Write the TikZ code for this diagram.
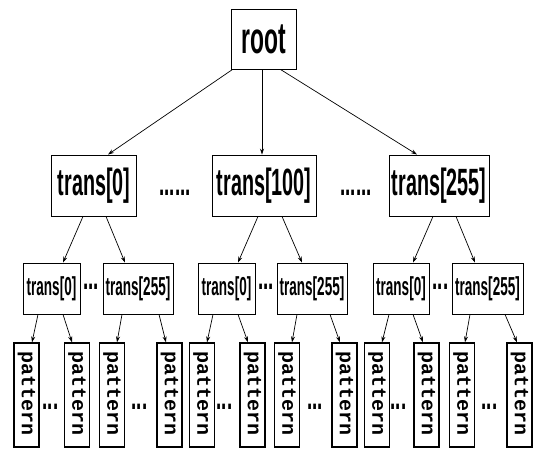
\documentclass[tikz,border=0pt]{standalone}
\usepackage{fontspec}
\usetikzlibrary{arrows.meta}
\newfontfamily\condfont{Liberation Sans}[UprightFont={* Bold},FakeStretch=0.52]
\newfontfamily\patfont{Liberation Mono}[UprightFont={* Bold}]
\begin{document}
\begin{tikzpicture}[x=1pt,y=-1pt,
  box/.style={draw,line width=0.9pt,inner sep=0pt,align=center},
  rootbox/.style={box,minimum width=65pt,minimum height=60pt,font=\condfont\fontsize{44}{44}\selectfont},
  lonebox/.style={box,minimum height=61pt,font=\condfont\fontsize{38}{38}\selectfont},
  ltwobox/.style={box,minimum height=51pt,font=\condfont\fontsize{26}{26}\selectfont},
  patbox/.style={box,line width=1.3pt,minimum width=25pt,minimum height=104pt},
  pattext/.style={inner sep=0pt,rotate=-90,font=\patfont\fontsize{20}{20}\selectfont},
  dotsbig/.style={inner sep=0pt,font=\condfont\fontsize{36}{36}\selectfont},
  arr/.style={-{Stealth[length=6pt,width=4pt]},line width=0.7pt}]
\useasboundingbox (0,0) rectangle (536,454);

% root
\node[rootbox] (root) at (263.5,39) {root};

% level 1
\node[lonebox,minimum width=85pt]  (a0)   at (94,185.5)  {trans[0]};
\node[lonebox,minimum width=104pt] (a100) at (264,185.5) {trans[100]};
\node[lonebox,minimum width=100pt] (a255) at (439,185.5) {trans[255]};
\node[dotsbig] (da1) at (175,193) {......};
\node[dotsbig] (da2) at (356,193) {......};

% level 2
\node[ltwobox,minimum width=57pt] (b1) at (51.5,288.5)  {trans[0]};
\node[ltwobox,minimum width=70pt] (b2) at (138,288.5)   {trans[255]};
\node[ltwobox,minimum width=57pt] (b3) at (226.5,288.5) {trans[0]};
\node[ltwobox,minimum width=70pt] (b4) at (312,288.5)   {trans[255]};
\node[ltwobox,minimum width=56pt] (b5) at (401,288.5)   {trans[0]};
\node[ltwobox,minimum width=71pt] (b6) at (487.5,288.5) {trans[255]};
\node[dotsbig] (db1) at (91,287)  {...};
\node[dotsbig] (db2) at (266,287) {...};
\node[dotsbig] (db3) at (440.5,287) {...};

% level 3
\foreach \i/\x in {1/26.5,2/77,3/112,4/169.5,5/202,6/252.5,7/287,8/344.5,9/377,10/426.5,11/462,12/519.5}{
  \node[patbox] (p\i) at (\x,395) {};
  \node[pattext] (pt\i) at (\x,394) {pattern};
}
\foreach \i/\x in {1/50.5,2/139.5,3/224.5,4/315,5/398.5,6/489.5}{
  \node[dotsbig] (dc\i) at (\x,407) {...};
}

% connectors root -> level 1
\draw[arr] ([xshift=2pt]root.south west) -- ([xshift=14pt]a0.north);
\draw[arr] ([xshift=-1.5pt]root.south) -- ([xshift=-2pt]a100.north);
\draw[arr] ([xshift=-16pt]root.south east) -- ([xshift=-22pt]a255.north);

% level 1 -> level 2
\draw[arr] ([xshift=-11pt]a0.south) -- ([xshift=11.5pt]b1.north);
\draw[arr] ([xshift=12pt]a0.south) -- ([xshift=-13pt]b2.north);
\draw[arr] ([xshift=-6pt]a100.south) -- ([xshift=11.5pt]b3.north);
\draw[arr] ([xshift=18pt]a100.south) -- ([xshift=-10pt]b4.north);
\draw[arr] ([xshift=-6pt]a255.south) -- ([xshift=12pt]b5.north);
\draw[arr] ([xshift=17pt]a255.south) -- ([xshift=-12.5pt]b6.north);

% level 2 -> level 3
\draw[arr] ([xshift=-13.5pt]b1.south) -- ([xshift=5.5pt]p1.north);
\draw[arr] ([xshift=11.5pt]b1.south) -- ([xshift=-5pt]p2.north);
\draw[arr] ([xshift=-16pt]b2.south) -- ([xshift=5pt]p3.north);
\draw[arr] ([xshift=21pt]b2.south) -- ([xshift=-3.5pt]p4.north);
\draw[arr] ([xshift=-13.5pt]b3.south) -- ([xshift=5pt]p5.north);
\draw[arr] ([xshift=11.5pt]b3.south) -- ([xshift=-4.5pt]p6.north);
\draw[arr] ([xshift=-15pt]b4.south) -- ([xshift=5pt]p7.north);
\draw[arr] ([xshift=18pt]b4.south) -- ([xshift=-4.5pt]p8.north);
\draw[arr] ([xshift=-12pt]b5.south) -- ([xshift=5pt]p9.north);
\draw[arr] ([xshift=12pt]b5.south) -- ([xshift=-3.5pt]p10.north);
\draw[arr] ([xshift=-17.5pt]b6.south) -- ([xshift=3pt]p11.north);
\draw[arr] ([xshift=17.5pt]b6.south) -- ([xshift=-2.5pt]p12.north);
\end{tikzpicture}
\end{document}
